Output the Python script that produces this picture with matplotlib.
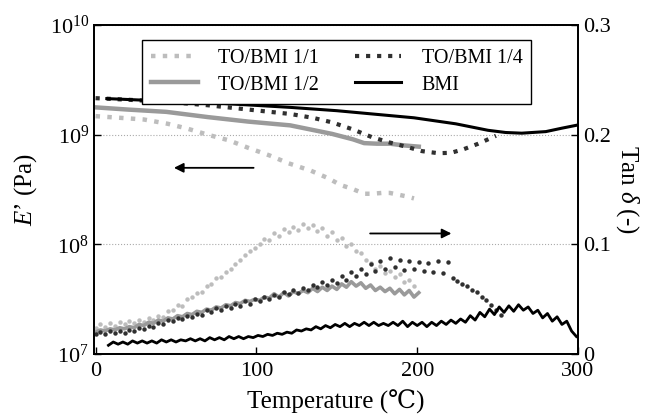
import numpy as np
import matplotlib
matplotlib.use("Agg")
import matplotlib.pyplot as plt

plt.rcParams['font.family'] = ['Liberation Serif', 'DejaVu Serif']
plt.rcParams['mathtext.fontset'] = 'custom'
plt.rcParams['mathtext.rm'] = 'Liberation Serif'
plt.rcParams['mathtext.it'] = 'Liberation Serif:italic'

# storage modulus E' (Pa)
t_e11 = [0, 15, 30, 45, 57, 70, 83, 95, 108, 120, 134, 145, 152, 160, 167, 172, 178, 183, 188, 193, 198]
e11 = [1.48e9, 1.43e9, 1.38e9, 1.26e9, 1.14e9, 1.0e9, 0.89e9, 0.76e9, 0.65e9, 0.55e9, 0.47e9,
       0.40e9, 0.35e9, 0.32e9, 0.29e9, 0.29e9, 0.295e9, 0.295e9, 0.285e9, 0.275e9, 0.263e9]

t_e12 = [0, 20, 44, 70, 95, 121, 147, 160, 167, 175, 183, 192, 201]
e12 = [1.78e9, 1.70e9, 1.62e9, 1.45e9, 1.32e9, 1.22e9, 1.02e9, 0.91e9, 0.84e9, 0.83e9, 0.83e9, 0.80e9, 0.78e9]

t_e14 = [0, 20, 44, 70, 95, 121, 135, 147, 160, 172, 183, 193, 203, 213, 221, 229, 238, 249]
e14 = [2.16e9, 2.09e9, 2.0e9, 1.86e9, 1.70e9, 1.55e9, 1.43e9, 1.30e9, 1.12e9, 0.95e9, 0.85e9,
       0.78e9, 0.71e9, 0.68e9, 0.685e9, 0.74e9, 0.83e9, 0.98e9]

t_ebmi = [7, 40, 80, 121, 150, 172, 198, 224, 244, 255, 265, 280, 290, 300]
ebmi = [2.14e9, 2.04e9, 1.93e9, 1.78e9, 1.66e9, 1.55e9, 1.43e9, 1.26e9, 1.10e9, 1.05e9, 1.035e9,
        1.07e9, 1.15e9, 1.23e9]

# tan delta, sampled every 3 C
tan11 = [0.024, 0.027, 0.025, 0.028, 0.026, 0.029, 0.027, 0.030, 0.028, 0.031, 0.029, 0.033,
         0.031, 0.035, 0.034, 0.039, 0.040, 0.045, 0.044, 0.050, 0.052, 0.056, 0.057, 0.062,
         0.064, 0.069, 0.070, 0.075, 0.078, 0.082, 0.086, 0.090, 0.094, 0.097, 0.100, 0.105,
         0.104, 0.110, 0.108, 0.114, 0.111, 0.116, 0.113, 0.119, 0.115, 0.118, 0.112, 0.115,
         0.108, 0.111, 0.104, 0.106, 0.099, 0.100, 0.094, 0.092, 0.086, 0.083, 0.078, 0.080,
         0.074, 0.076, 0.070, 0.073, 0.066, 0.068, 0.062]
tan12 = [0.020, 0.022, 0.021, 0.023, 0.022, 0.024, 0.023, 0.025, 0.024, 0.027, 0.026, 0.029,
         0.028, 0.031, 0.030, 0.033, 0.032, 0.035, 0.034, 0.037, 0.036, 0.039, 0.038, 0.041,
         0.040, 0.043, 0.042, 0.045, 0.044, 0.047, 0.046, 0.049, 0.048, 0.050, 0.049, 0.052,
         0.051, 0.055, 0.052, 0.056, 0.053, 0.057, 0.055, 0.058, 0.056, 0.060, 0.057, 0.061,
         0.058, 0.062, 0.059, 0.064, 0.061, 0.066, 0.062, 0.065, 0.060, 0.063, 0.058, 0.061,
         0.057, 0.060, 0.055, 0.059, 0.054, 0.058, 0.052, 0.056]
tan14 = [0.018, 0.020, 0.018, 0.021, 0.019, 0.021, 0.019, 0.022, 0.021, 0.024, 0.023, 0.026,
         0.025, 0.028, 0.027, 0.031, 0.030, 0.033, 0.032, 0.035, 0.034, 0.037, 0.036, 0.040,
         0.038, 0.042, 0.040, 0.044, 0.042, 0.046, 0.044, 0.048, 0.046, 0.050, 0.048, 0.052,
         0.050, 0.054, 0.052, 0.057, 0.055, 0.058, 0.056, 0.060, 0.058, 0.063, 0.061, 0.066,
         0.063, 0.068, 0.065, 0.071, 0.068, 0.075, 0.071, 0.078, 0.073, 0.082, 0.076, 0.085,
         0.078, 0.088, 0.079, 0.086, 0.077, 0.085, 0.078, 0.084, 0.076, 0.083, 0.075, 0.085,
         0.074, 0.084, 0.069, 0.067, 0.064, 0.062, 0.058, 0.057, 0.052, 0.049, 0.045, 0.040,
         0.036]
tanbmi = [0.008, 0.011, 0.009, 0.011, 0.009, 0.012, 0.010, 0.012, 0.010, 0.012, 0.010, 0.013,
          0.011, 0.013, 0.011, 0.013, 0.012, 0.014, 0.012, 0.014, 0.012, 0.015, 0.013, 0.015,
          0.013, 0.016, 0.014, 0.016, 0.014, 0.016, 0.015, 0.017, 0.016, 0.018, 0.017, 0.019,
          0.018, 0.020, 0.019, 0.022, 0.021, 0.023, 0.022, 0.025, 0.023, 0.026, 0.024, 0.027,
          0.025, 0.028, 0.025, 0.028, 0.026, 0.029, 0.026, 0.029, 0.026, 0.028, 0.026, 0.029,
          0.026, 0.030, 0.025, 0.029, 0.026, 0.029, 0.025, 0.029, 0.026, 0.030, 0.027, 0.031,
          0.028, 0.032, 0.029, 0.035, 0.031, 0.038, 0.034, 0.041, 0.036, 0.043, 0.038, 0.044,
          0.039, 0.045, 0.040, 0.043, 0.037, 0.040, 0.033, 0.037, 0.030, 0.034, 0.027, 0.030,
          0.021, 0.016]
t11 = np.arange(len(tan11)) * 3
t12 = np.arange(len(tan12)) * 3
t14 = np.arange(len(tan14)) * 3
tbmi = 8 + np.arange(len(tanbmi)) * 3

c11 = '#bdbdbd'
c12 = '#9a9a9a'
c14 = '#303030'
cbmi = '#000000'

fig = plt.figure(figsize=(6.48, 4.2), dpi=100)
ax = fig.add_axes([0.145, 0.157, 0.747, 0.783])
ax2 = ax.twinx()

ax.plot(t_e11, e11, ':', color=c11, lw=3.2, label='TO/BMI 1/1')
ax.plot(t_e12, e12, '-', color=c12, lw=3.2, label='TO/BMI 1/2')
ax.plot(t_e14, e14, ':', color=c14, lw=3.0, label='TO/BMI 1/4')
ax.plot(t_ebmi, ebmi, '-', color=cbmi, lw=2.2, label='BMI')

ax2.plot(t11, tan11, 'o', color=c11, ms=3.2, mew=0)
ax2.plot(t12, tan12, '-', color=c12, lw=2.6)
ax2.plot(t14, tan14, 'o', color=c14, ms=3.2, mew=0)
ax2.plot(tbmi, tanbmi, '-', color=cbmi, lw=2.0)

ax.set_yscale('log')
ax.set_ylim(1e7, 1e10)
ax.set_xlim(-1, 300)
ax2.set_ylim(0, 0.3)
ax.set_xticks([0, 100, 200, 300])
ax.set_yticks([1e7, 1e8, 1e9, 1e10])
ax.minorticks_off()
ax2.set_yticks([0, 0.1, 0.2, 0.3])
ax2.set_yticklabels(['0', '0.1', '0.2', '0.3'])
ax.yaxis.grid(True, ls=':', color='#aaaaaa', lw=0.8)

for a in (ax, ax2):
    a.tick_params(direction='in', length=5, width=1, labelsize=16)
    for s in a.spines.values():
        s.set_linewidth(1.3)
ax.tick_params(axis='x', pad=6)

ax.annotate('', xy=(47, 5.0e8), xytext=(100, 5.0e8),
            arrowprops=dict(arrowstyle='-|>', color='black', lw=1.3, mutation_scale=14))
ax2.annotate('', xy=(223, 0.110), xytext=(169, 0.110),
             arrowprops=dict(arrowstyle='-|>', color='black', lw=1.3, mutation_scale=14))

ax.set_xlabel('Temperature (\u2103)', fontsize=18, labelpad=6)
ax.set_ylabel('$E$\u2019 (Pa)', fontsize=18, labelpad=8)
ax2.set_ylabel('Tan $\\delta$ (-)', fontsize=18, rotation=270, labelpad=22)

leg = ax.legend(loc='upper center', bbox_to_anchor=(0.502, 0.985), ncol=2, fontsize=14.5,
                handlelength=2.3, handletextpad=1.0, columnspacing=1.8, labelspacing=0.35,
                fancybox=False, framealpha=1, edgecolor='black', borderpad=0.45)
leg.get_frame().set_linewidth(1.0)

fig.savefig('out.png', dpi=100)
